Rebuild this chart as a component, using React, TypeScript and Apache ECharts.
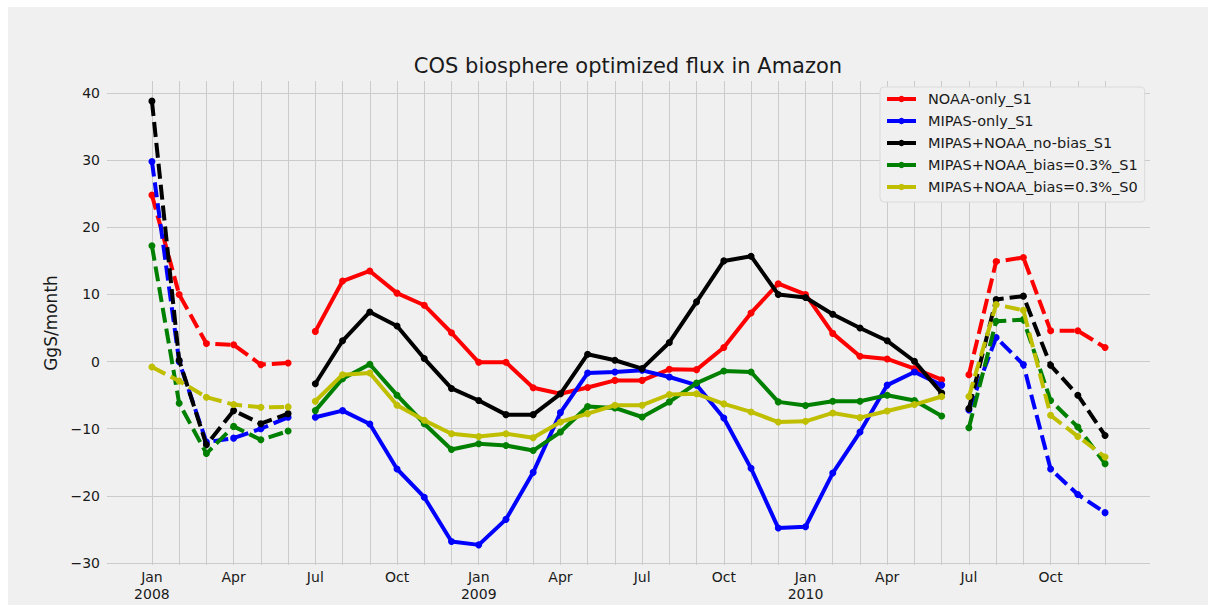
import React, { useEffect, useRef } from "react";
import * as echarts from "echarts";

// ---- data (monthly, Jan 2008 .. Dec 2010; index 0 = Jan 2008) ----
const tickIndex = [0, 3, 6, 9, 12, 15, 18, 21, 24, 27, 30, 33];
const tickLabels = ["Jan\n2008", "Apr", "Jul", "Oct", "Jan\n2009", "Apr", "Jul", "Oct", "Jan\n2010", "Apr", "Jul", "Oct"];
const yTicks = [-30, -20, -10, 0, 10, 20, 30, 40];

const seriesNames = [
  "NOAA-only_S1",
  "MIPAS-only_S1",
  "MIPAS+NOAA_no-bias_S1",
  "MIPAS+NOAA_bias=0.3%_S1",
  "MIPAS+NOAA_bias=0.3%_S0",
];

const noaaOnly = [
  24.8, 10.0, 2.7, 2.5, -0.45, -0.2,
  4.5, 12.0, 13.5, 10.2, 8.4, 4.3,
  -0.1, -0.1, -3.9, -4.8, -3.85, -2.8, -2.8, -1.15, -1.2, 2.1, 7.25, 11.6,
  10.0, 4.2, 0.8, 0.4, -1.05, -2.7,
  -1.95, 14.9, 15.5, 4.6, 4.6, 2.1,
];
const mipasOnly = [
  29.8, 0.0, -12.0, -11.4, -10.0, -8.3,
  -8.3, -7.3, -9.3, -16.0, -20.2, -26.8,
  -27.3, -23.5, -16.5, -7.6, -1.7, -1.55, -1.3, -2.3, -3.5, -8.4, -15.9, -24.8,
  -24.6, -16.6, -10.5, -3.5, -1.55, -3.5,
  -7.2, 3.6, -0.45, -16.0, -19.8, -22.5,
];
const noBias = [
  38.8, 0.2, -12.4, -7.3, -9.25, -7.75,
  -3.3, 3.1, 7.4, 5.3, 0.45, -4.0,
  -5.8, -7.9, -7.9, -4.8, 1.1, 0.2, -1.05, 2.85, 8.9, 15.0, 15.7, 10.0,
  9.55, 7.05, 5.0, 3.1, 0.05, -4.7,
  -7.0, 9.25, 9.75, -0.55, -5.0, -11.0,
];
const bias03S1 = [
  17.25, -6.2, -13.7, -9.65, -11.65, -10.35,
  -7.3, -2.55, -0.4, -5.0, -9.25, -13.1,
  -12.25, -12.5, -13.25, -10.5, -6.7, -6.9, -8.25, -6.0, -3.2, -1.4, -1.55, -6.0,
  -6.55, -5.9, -5.9, -5.0, -5.8, -8.1,
  -9.85, 6.0, 6.25, -5.8, -9.75, -15.2,
];
const bias03S0 = [
  -0.8, -2.9, -5.3, -6.4, -6.8, -6.75,
  -5.9, -1.95, -1.7, -6.5, -8.75, -10.75,
  -11.15, -10.75, -11.35, -9.0, -7.75, -6.5, -6.5, -4.9, -4.8, -6.3, -7.5, -9.0,
  -8.9, -7.65, -8.35, -7.35, -6.4, -5.2,
  -5.2, 8.5, 7.65, -8.0, -11.15, -14.2,
];

const allValues = [noaaOnly, mipasOnly, noBias, bias03S1, bias03S0];
const colors = ["#ff0000", "#0000ff", "#000000", "#008000", "#bfbf00"];
// [start index, end index, dashed?]
const segments: [number, number, boolean][] = [
  [0, 5, true],
  [6, 29, false],
  [30, 35, true],
];

const FONT = "DejaVu Sans";
const TXT = "#1a1a1a";

export default function App() {
  const ref = useRef<HTMLDivElement>(null);

  useEffect(() => {
    if (!ref.current) return;
    const chart = echarts.init(ref.current, null, { renderer: "svg" });

    const series: any[] = [];
    allValues.forEach((vals, si) => {
      segments.forEach(([a, b, dashed]) => {
        const data: [number, number][] = [];
        for (let i = a; i <= b; i++) data.push([i, vals[i]]);
        series.push({
          type: "line",
          name: seriesNames[si],
          data,
          symbol: "circle",
          symbolSize: 7,
          showSymbol: true,
          color: colors[si],
          itemStyle: { color: colors[si] },
          lineStyle: {
            color: colors[si],
            width: 4,
            type: dashed ? [15, 6] : "solid",
            cap: "butt",
          },
          emphasis: { disabled: true },
          z: 2 + si,
        });
      });
    });

    chart.setOption({
      animation: false,
      backgroundColor: "#f0f0f0",
      textStyle: { fontFamily: FONT },
      grid: { left: 99, right: 58, top: 74, bottom: 40, containLabel: false },
      graphic: [
        {
          type: "text",
          x: 620,
          y: 59,
          style: {
            text: "COS biosphere optimized flux in Amazon",
            fontSize: 21,
            fontFamily: FONT,
            fill: TXT,
            align: "center",
            verticalAlign: "middle",
          },
        },
      ],
      legend: {
        orient: "vertical",
        left: 872,
        top: 80,
        padding: [4, 7, 7, 5],
        itemWidth: 29,
        itemHeight: 8,
        itemGap: 6,
        backgroundColor: "#f0f0f0",
        borderColor: "#dadada",
        borderWidth: 1,
        borderRadius: 4,
        selectedMode: false,
        lineStyle: { width: 4, type: "solid" },
        textStyle: {
          fontSize: 14.5,
          fontFamily: FONT,
          color: TXT,
          lineHeight: 16,
          padding: [0, 0, 0, 7],
        },
        data: seriesNames.map((n, i) => ({
          name: n,
          itemStyle: { color: colors[i] },
          lineStyle: { color: colors[i], width: 4, type: "solid" },
        })),
      },
      xAxis: {
        type: "value",
        min: -1.65,
        max: 36.65,
        axisLine: { show: false },
        axisTick: { show: false, customValues: Array.from({ length: 36 }, (_, i) => i) },
        splitLine: { show: true, lineStyle: { color: "#cbcbcb", width: 1 } },
        axisLabel: {
          customValues: tickIndex,
          formatter: (v: number) => tickLabels[tickIndex.indexOf(Math.round(v))] ?? "",
          fontSize: 14,
          fontFamily: FONT,
          color: TXT,
          lineHeight: 16.5,
          margin: 4,
        },
      },
      yAxis: {
        type: "value",
        min: -30.3,
        max: 41.8,
        name: "GgS/month",
        nameLocation: "middle",
        nameGap: 32,
        nameTextStyle: { fontSize: 17, fontFamily: FONT, color: TXT },
        axisLine: { show: false },
        axisTick: { show: false, customValues: yTicks },
        splitLine: { show: true, lineStyle: { color: "#cbcbcb", width: 1 } },
        axisLabel: {
          customValues: yTicks,
          formatter: (v: number) => (v < 0 ? "\u2212" + Math.abs(v) : String(v)),
          fontSize: 14,
          fontFamily: FONT,
          color: TXT,
          margin: 7,
        },
      },
      series,
    });

    return () => chart.dispose();
  }, []);

  return (
    <div
      ref={ref}
      style={{ position: "absolute", left: 8, top: 7, width: 1200, height: 598 }}
    />
  );
}
